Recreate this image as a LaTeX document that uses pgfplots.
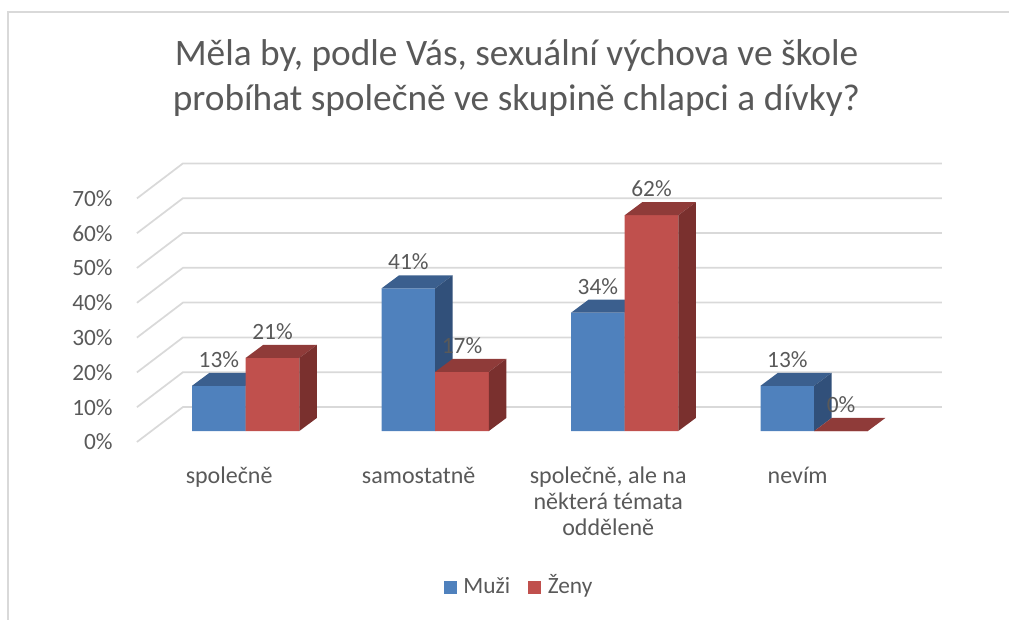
\documentclass[border=0pt]{standalone}
\usepackage{fontspec}
\setmainfont{Carlito}
\usepackage{pgfplots}
\pgfplotsset{compat=1.18}
\definecolor{mblue}{HTML}{4F81BD}
\definecolor{mbluetop}{HTML}{3B5F8E}
\definecolor{mblueside}{HTML}{31507A}
\definecolor{mred}{HTML}{C0504D}
\definecolor{mredtop}{HTML}{8F3B39}
\definecolor{mredside}{HTML}{7A302E}
\definecolor{gridc}{HTML}{D9D9D9}
\definecolor{textgray}{HTML}{595959}
\begin{document}
\begin{tikzpicture}
\begin{axis}[
  x=142.125pt, y=2.61pt,
  xmin=-0.574, xmax=3.674, ymin=-3.16, ymax=76.9,
  clip=false,
  axis line style={draw=none},
  major tick length=0pt,
  ytick={0,10,20,30,40,50,60,70},
  yticklabels={0\%,10\%,20\%,30\%,40\%,50\%,60\%,70\%},
  yticklabel style={anchor=east, inner sep=0pt, xshift=-18pt, yshift=-8.25pt,
    font=\fontsize{17.5}{20}\selectfont, text=textgray},
  xtick={0,1,2,3},
  xticklabels={společně, samostatně, {společně, ale na\\některá témata\\odděleně}, nevím},
  xticklabel style={anchor=north, inner sep=0pt, xshift=-12.4pt, yshift=-18.75pt,
    align=center, font=\fontsize{18}{19.5}\selectfont, text=textgray},
  /pgf/number format/assume math mode=true,
  legend style={at={(axis cs:1.437,-45.1)}, anchor=center, draw=none, fill=none,
    font=\fontsize{17.5}{20}\selectfont, text=textgray,
    nodes={inner sep=0pt, text height=12pt, text depth=3pt},
    /tikz/every odd column/.append style={column sep=5pt},
    /tikz/every even column/.append style={column sep=13.5pt}},
  legend columns=2,
]
% side wall and back wall gridlines
\addplot[gridc, line width=1.3pt, forget plot] coordinates {(-0.574,-3.16) (-0.331,6.9) (3.674,6.9)};
\addplot[gridc, line width=1.3pt, forget plot] coordinates {(-0.574,6.84) (-0.331,16.9) (3.674,16.9)};
\addplot[gridc, line width=1.3pt, forget plot] coordinates {(-0.574,16.84) (-0.331,26.9) (3.674,26.9)};
\addplot[gridc, line width=1.3pt, forget plot] coordinates {(-0.574,26.84) (-0.331,36.9) (3.674,36.9)};
\addplot[gridc, line width=1.3pt, forget plot] coordinates {(-0.574,36.84) (-0.331,46.9) (3.674,46.9)};
\addplot[gridc, line width=1.3pt, forget plot] coordinates {(-0.574,46.84) (-0.331,56.9) (3.674,56.9)};
\addplot[gridc, line width=1.3pt, forget plot] coordinates {(-0.574,56.84) (-0.331,66.9) (3.674,66.9)};
\addplot[gridc, line width=1.3pt, forget plot] coordinates {(-0.574,66.84) (-0.331,76.9) (3.674,76.9)};

% Muži: front faces
\addplot[ybar, bar width=0.283, bar shift=-0.1415, fill=mblue, draw=none,
  nodes near coords={\pgfmathprintnumber{\pgfplotspointmeta}\%},
  every node near coord/.append style={anchor=base, inner sep=0pt, xshift=-20.11pt, yshift=13.9pt,
    font=\fontsize{17.5}{20}\selectfont, text=textgray},
  legend image code/.code={\fill[mblue] (0pt,-4.5pt) rectangle (9.75pt,5.25pt);}]
  coordinates {(0,13) (1,41) (2,34) (3,13)};
\addlegendentry{Muži}
% Muži: top faces
\addplot[fill=mbluetop, draw=none, forget plot] coordinates {(-0.283,13) (0,13) (0.0923,16.74) (-0.1907,16.74)} -- cycle;
\addplot[fill=mbluetop, draw=none, forget plot] coordinates {(0.717,41) (1,41) (1.0923,44.74) (0.8093,44.74)} -- cycle;
\addplot[fill=mbluetop, draw=none, forget plot] coordinates {(1.717,34) (2,34) (2.0923,37.74) (1.8093,37.74)} -- cycle;
\addplot[fill=mbluetop, draw=none, forget plot] coordinates {(2.717,13) (3,13) (3.0923,16.74) (2.8093,16.74)} -- cycle;
% Muži: side faces
\addplot[fill=mblueside, draw=none, forget plot] coordinates {(0,0) (0.0923,3.74) (0.0923,16.74) (0,13)} -- cycle;
\addplot[fill=mblueside, draw=none, forget plot] coordinates {(1,0) (1.0923,3.74) (1.0923,44.74) (1,41)} -- cycle;
\addplot[fill=mblueside, draw=none, forget plot] coordinates {(2,0) (2.0923,3.74) (2.0923,37.74) (2,34)} -- cycle;
\addplot[fill=mblueside, draw=none, forget plot] coordinates {(3,0) (3.0923,3.74) (3.0923,16.74) (3,13)} -- cycle;

% Ženy: front faces
\addplot[ybar, bar width=0.283, bar shift=0.1415, fill=mred, draw=none,
  nodes near coords={\pgfmathprintnumber{\pgfplotspointmeta}\%},
  every node near coord/.append style={anchor=base, inner sep=0pt, xshift=20.11pt, yshift=13.9pt,
    font=\fontsize{17.5}{20}\selectfont, text=textgray},
  legend image code/.code={\fill[mred] (0pt,-4.5pt) rectangle (9.75pt,5.25pt);}]
  coordinates {(0,21) (1,17) (2,62) (3,0)};
\addlegendentry{Ženy}
% Ženy: top faces
\addplot[fill=mredtop, draw=none, forget plot] coordinates {(0,21) (0.283,21) (0.3753,24.74) (0.0923,24.74)} -- cycle;
\addplot[fill=mredtop, draw=none, forget plot] coordinates {(1,17) (1.283,17) (1.3753,20.74) (1.0923,20.74)} -- cycle;
\addplot[fill=mredtop, draw=none, forget plot] coordinates {(2,62) (2.283,62) (2.3753,65.74) (2.0923,65.74)} -- cycle;
\addplot[fill=mredtop, draw=none, forget plot] coordinates {(3,0) (3.283,0) (3.3753,3.74) (3.0923,3.74)} -- cycle;
% Ženy: side faces
\addplot[fill=mredside, draw=none, forget plot] coordinates {(0.283,0) (0.3753,3.74) (0.3753,24.74) (0.283,21)} -- cycle;
\addplot[fill=mredside, draw=none, forget plot] coordinates {(1.283,0) (1.3753,3.74) (1.3753,20.74) (1.283,17)} -- cycle;
\addplot[fill=mredside, draw=none, forget plot] coordinates {(2.283,0) (2.3753,3.74) (2.3753,65.74) (2.283,62)} -- cycle;

% title
\node[anchor=base, inner sep=0pt, font=\fontsize{28}{33}\selectfont, text=textgray]
  at (axis cs:1.429,105.17) {Měla by, podle Vás, sexuální výchova ve škole};
\node[anchor=base, inner sep=0pt, font=\fontsize{28}{33}\selectfont, text=textgray]
  at (axis cs:1.429,92.24) {probíhat společně ve skupině chlapci a dívky?};
% chart frame
\draw[gridc, line width=1.5pt] (axis cs:4.1,120.26) -- (axis cs:-1.2517,120.26) -- (axis cs:-1.2517,-56);
\coordinate (bbsw) at (axis cs:-1.29657,-54.023);
\coordinate (bbne) at (axis cs:4.02797,123.851);
\end{axis}
\pgfresetboundingbox
\path[use as bounding box] (bbsw) rectangle (bbne);
\end{tikzpicture}
\end{document}
